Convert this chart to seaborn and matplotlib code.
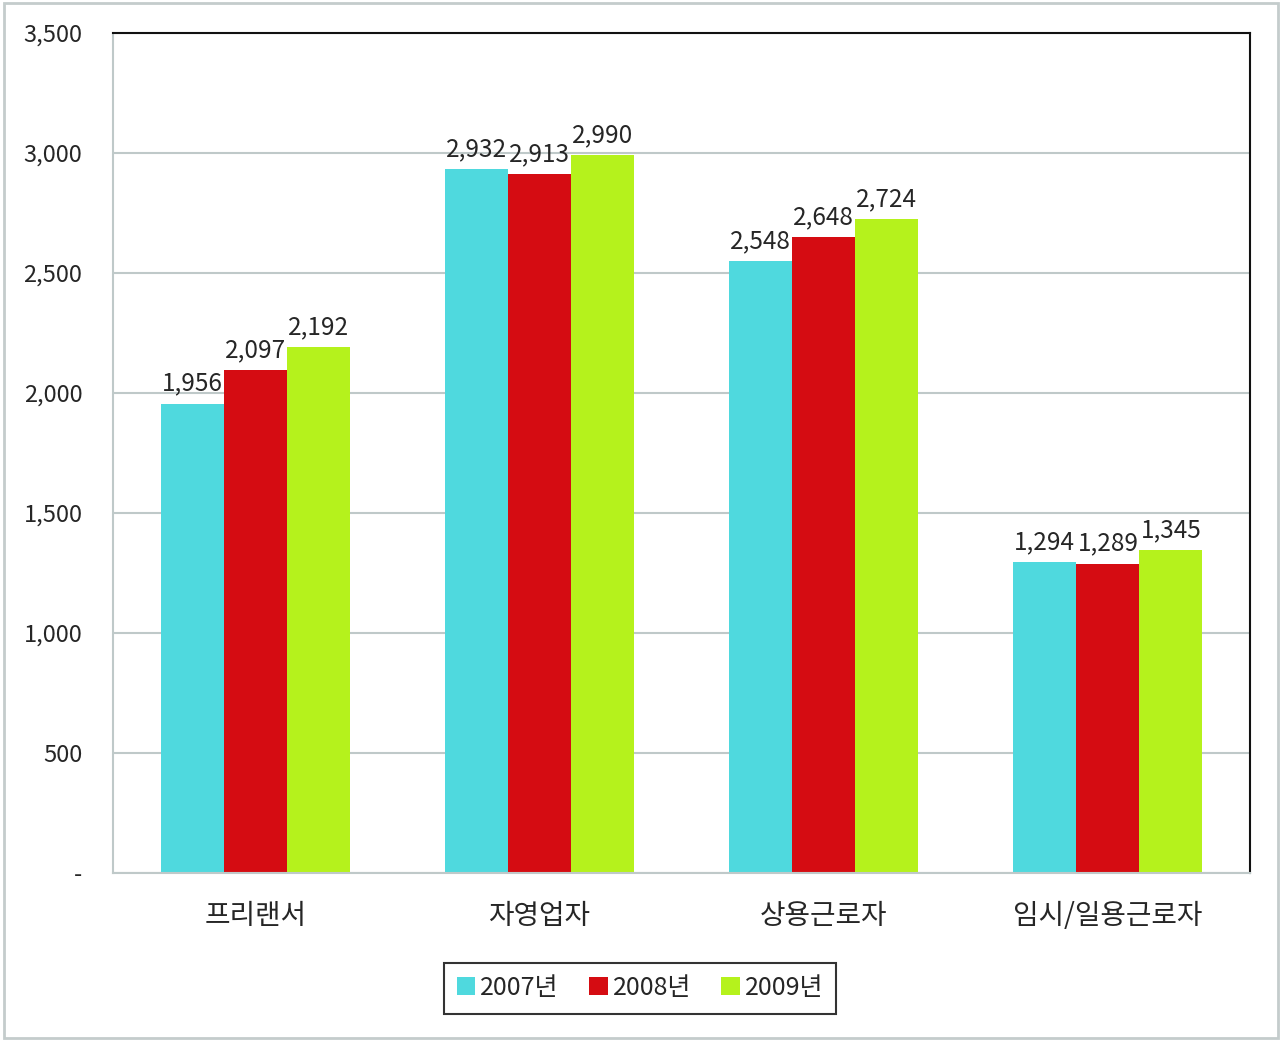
import pandas as pd
import numpy as np
import seaborn as sns
import matplotlib.pyplot as plt
from matplotlib.patches import Rectangle
from matplotlib.ticker import FuncFormatter, FixedLocator

# data
categories = ['프리랜서', '자영업자', '상용근로자', '임시/일용근로자']
years = ['2007년', '2008년', '2009년']
v2007 = [1956, 2932, 2548, 1294]
v2008 = [2097, 2913, 2648, 1289]
v2009 = [2192, 2990, 2724, 1345]
colors = ['#4FD9DE', '#D50C12', '#B5F21C']

df = pd.DataFrame({
    'category': categories * 3,
    'year': [years[0]] * 4 + [years[1]] * 4 + [years[2]] * 4,
    'value': v2007 + v2008 + v2009,
})

sns.set_style('white')
plt.rcParams['font.family'] = ['Noto Sans CJK KR', 'DejaVu Sans']
plt.rcParams['font.weight'] = 'medium'

fig = plt.figure(figsize=(12.82, 10.41), dpi=100)
ax = fig.add_axes([113 / 1282, 1 - 873 / 1041, (1250 - 113) / 1282, (873 - 33) / 1041])

sns.barplot(data=df, x='category', y='value', hue='year', palette=colors,
            width=0.665, saturation=1, linewidth=0, ax=ax, legend=True)

for cont in ax.containers:
    ax.bar_label(cont, labels=[f'{int(b.get_height()):,}' for b in cont],
                 padding=5, fontsize=17.5)

ax.set_ylim(0, 3500)
ax.set_yticks(np.arange(0, 3501, 500))
ax.yaxis.set_major_formatter(FuncFormatter(lambda v, p: '-' if v == 0 else f'{int(v):,}'))
ax.grid(axis='y', color='#BFC9C9', linewidth=1.5)
ax.set_axisbelow(True)

ax.set_xlabel('')
ax.set_ylabel('')
ax.tick_params(axis='y', labelsize=17, length=8, color='#BFC9C9', width=1.5, pad=14)
ax.tick_params(axis='x', which='major', labelsize=20, length=0, pad=20)
ax.xaxis.set_minor_locator(FixedLocator([-0.5, 0.5, 1.5, 2.5, 3.5]))
ax.tick_params(axis='x', which='minor', length=8, color='#BFC9C9', width=1.5, direction='inout')

for s in ['left', 'bottom']:
    ax.spines[s].set_color('#BFC9C9')
    ax.spines[s].set_linewidth(1.5)
for s in ['top', 'right']:
    ax.spines[s].set_color('#111111')
    ax.spines[s].set_linewidth(1.5)

handles, labels = ax.get_legend_handles_labels()
ax.get_legend().remove()
leg = fig.legend(handles, labels, loc='center', bbox_to_anchor=(640 / 1282, 1 - 988 / 1041),
                 ncol=3, frameon=True, fancybox=False, fontsize=18, edgecolor='black',
                 handlelength=0.75, handleheight=0.75, handletextpad=0.2, columnspacing=1.2,
                 borderpad=0.5)
leg.get_frame().set_linewidth(1.5)

fig.patches.append(Rectangle((0.003, 0.003), 0.994, 0.994, transform=fig.transFigure,
                             fill=False, edgecolor='#C4CCCC', linewidth=2))

fig.savefig('out.png', dpi=100)
